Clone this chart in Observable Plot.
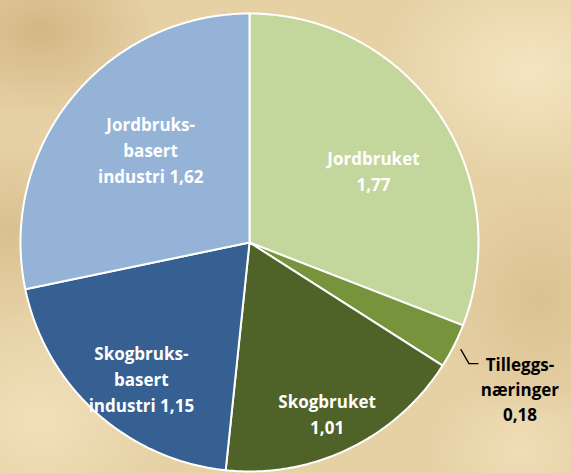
<!DOCTYPE html>
<html>
<head>
<meta charset="utf-8">
<script src="https://cdn.jsdelivr.net/npm/d3@7"></script>
<script src="https://cdn.jsdelivr.net/npm/@observablehq/plot@0.6"></script>
<style>
  html, body { margin: 0; padding: 0; }
  body {
    width: 571px; height: 473px; overflow: hidden;
    background-color: #e6d1a5;
    background-image:
      radial-gradient(ellipse 120px 90px at 40px 30px, rgba(190,150,95,0.45), rgba(190,150,95,0) 100%),
      radial-gradient(ellipse 150px 110px at 530px 70px, rgba(250,238,205,0.7), rgba(250,238,205,0) 100%),
      radial-gradient(ellipse 130px 110px at 40px 420px, rgba(248,234,200,0.6), rgba(248,234,200,0) 100%),
      radial-gradient(ellipse 110px 120px at 540px 300px, rgba(200,165,110,0.35), rgba(200,165,110,0) 100%),
      radial-gradient(ellipse 90px 70px at 520px 450px, rgba(245,230,195,0.6), rgba(245,230,195,0) 100%),
      radial-gradient(ellipse 80px 90px at 10px 230px, rgba(195,160,105,0.35), rgba(195,160,105,0) 100%);
  }
  svg { display: block; background: transparent; }
</style>
</head>
<body>
<div id="chart"></div>
<script>
// ---- data ----
const categories = ["Jordbruket", "Tilleggsnæringer", "Skogbruket", "Skogbruksbasert industri", "Jordbruksbasert industri"];
const labelTexts = ["Jordbruket\n1,77", "Tilleggs-\nnæringer\n0,18", "Skogbruket\n1,01", "Skogbruks-\nbasert\nindustri 1,15", "Jordbruks-\nbasert\nindustri 1,62"];
const values = [1.77, 0.18, 1.01, 1.15, 1.62];
const colors = ["#c3d69b", "#77933c", "#4f6228", "#366092", "#95b3d7"];

// ---- layout ----
const W = 571, H = 473;
const cx = 249, cy = 242, R = 229;
const labelRadius = [0.64, 1.0, 0.81, 0.75, 0.59];
const labelNudge = [[3, 10], [0, 0], [-3, 3], [7, 8], [6, -9]];

const pie = d3.pie().sort(null).value((d, i) => values[i])(categories);

// slice polygons (angles measured clockwise from 12 o'clock)
const pt = (a, r) => [cx + r * Math.sin(a), cy - r * Math.cos(a)];
const poly = [];
pie.forEach((s, i) => {
  const n = Math.max(4, Math.ceil((s.endAngle - s.startAngle) / 0.01));
  poly.push({name: categories[i], x: cx, y: cy});
  for (let k = 0; k <= n; k++) {
    const a = s.startAngle + (s.endAngle - s.startAngle) * k / n;
    const [x, y] = pt(a, R);
    poly.push({name: categories[i], x, y});
  }
});

// inside labels
const inside = [];
pie.forEach((s, i) => {
  if (i === 1) return;
  const a = (s.startAngle + s.endAngle) / 2;
  const [x, y] = pt(a, R * labelRadius[i]);
  inside.push({text: labelTexts[i], x: x + labelNudge[i][0], y: y + labelNudge[i][1]});
});

// outside label for small slice with leader line
const sm = pie[1];
const am = (sm.startAngle + sm.endAngle) / 2;
const [lx0, ly0] = pt(am, R * 1.035);
const leader = [
  {x: lx0, y: ly0},
  {x: lx0 + 8, y: ly0 + 14},
  {x: lx0 + 17, y: ly0 + 14}
];
const outside = [{text: labelTexts[1], x: lx0 + 59, y: ly0 + 38}];

const chart = Plot.plot({
  width: W,
  height: H,
  margin: 0,
  x: {domain: [0, W], range: [0, W], axis: null},
  y: {domain: [0, H], range: [0, H], axis: null},
  color: {domain: categories, range: colors},
  style: {background: "transparent", overflow: "visible"},
  marks: [
    Plot.line(poly, {x: "x", y: "y", z: "name", fill: "name", stroke: "white", strokeWidth: 2, curve: "linear-closed", strokeLinejoin: "round"}),
    Plot.text(inside, {x: "x", y: "y", text: "text", fill: "white", fontSize: 17, fontWeight: "bold", fontFamily: "Open Sans", lineHeight: 1.53}),
    Plot.line(leader, {x: "x", y: "y", stroke: "black", strokeWidth: 1.3}),
    Plot.text(outside, {x: "x", y: "y", text: "text", fill: "black", fontSize: 17, fontWeight: "bold", fontFamily: "Open Sans", lineHeight: 1.47})
  ]
});
document.getElementById("chart").appendChild(chart);
</script>
</body>
</html>
